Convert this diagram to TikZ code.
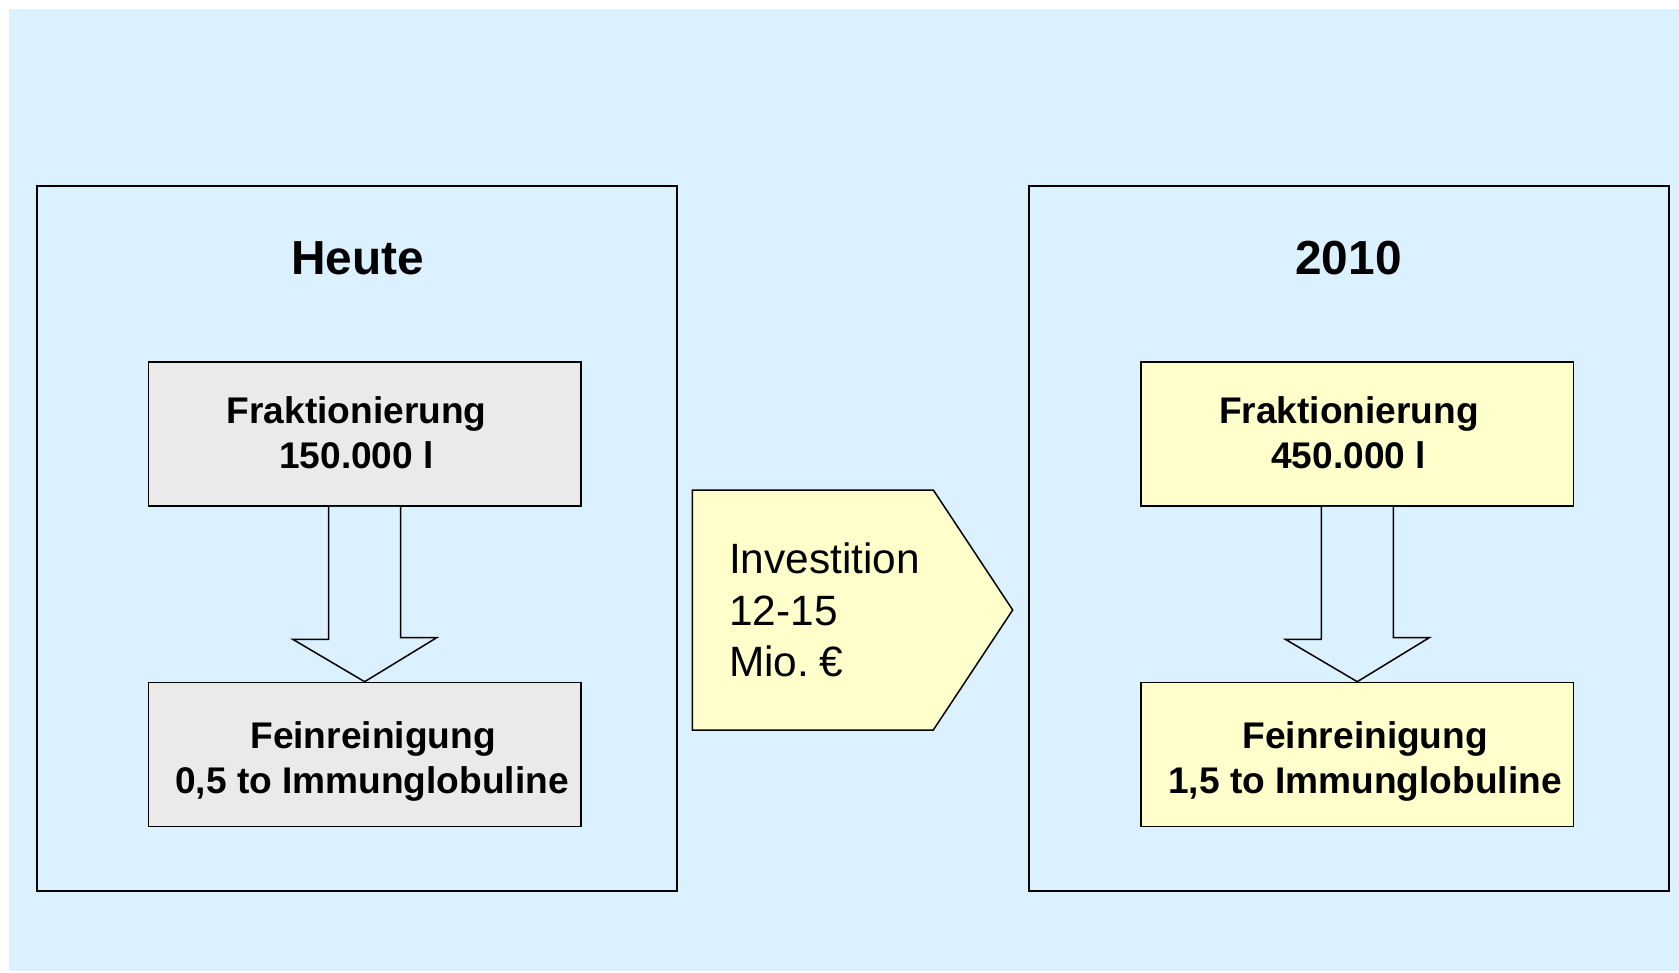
\documentclass[tikz,border=0pt]{standalone}
\usepackage{fontspec}
\setmainfont{Liberation Sans}
\definecolor{bgblue}{RGB}{219,241,255}
\definecolor{grayfill}{RGB}{234,234,234}
\definecolor{yellowfill}{RGB}{255,255,204}
\begin{document}
\begin{tikzpicture}[x=1pt,y=-1pt,
  outerbox/.style={draw=black,line width=1.8pt,minimum width=640pt,minimum height=704.6pt,inner sep=0pt},
  innerbox/.style={draw=black,line width=1.6pt,minimum width=432.5pt,minimum height=144pt,inner sep=0pt},
  blockarrow/.style={draw=black,line width=1.5pt,fill=bgblue,line join=miter},
  heading/.style={inner sep=0pt,anchor=base,font=\fontsize{47.8}{56}\selectfont\bfseries},
  boxtext/.style={inner sep=0pt,anchor=base,font=\fontsize{37.1}{44}\selectfont\bfseries},
  invtext/.style={inner sep=0pt,anchor=base west,font=\fontsize{42.4}{51.5}\selectfont}]
\useasboundingbox (0,0) rectangle (1679,973);
\fill[bgblue] (9,9) rectangle (1679,971);
% outer boxes
\node[outerbox] (L) at (356.6,538.6) {};
\node[outerbox] (R) at (1349,538.6) {};
\node[heading] (hL) at (357.5,274.3) {Heute};
\node[heading] (hR) at (1348.5,274.3) {2010};
% left inner boxes
\node[innerbox,fill=grayfill] (F1) at (364.65,434.15) {};
\node[innerbox,fill=grayfill] (B1) at (364.65,754.5) {};
% right inner boxes
\node[innerbox,fill=yellowfill] (F2) at (1357.25,434.15) {};
\node[innerbox,fill=yellowfill] (B2) at (1357.25,754.5) {};
% block arrows
\draw[blockarrow] ([xshift=-36pt]F1.south) -- ++(0,132.3) -- ++(-36,0) -- (B1.north) -- ++(72,-44) -- ++(-36,0) -- ([xshift=36pt]F1.south);
\draw[blockarrow] ([xshift=-36pt]F2.south) -- ++(0,132.3) -- ++(-36,0) -- (B2.north) -- ++(72,-44) -- ++(-36,0) -- ([xshift=36pt]F2.south);
% box texts
\node[boxtext] (t1a) at (356.7,424) {Fraktionierung};
\node[boxtext] (t1b) at (356.5,468.3) {150.000 l};
\node[boxtext] (t2a) at (373,748.3) {Feinreinigung};
\node[boxtext] (t2b) at (372,793.3) {0,5 to Immunglobuline};
\node[boxtext] (t3a) at (1349,424) {Fraktionierung};
\node[boxtext] (t3b) at (1348.7,468.3) {450.000 l};
\node[boxtext] (t4a) at (1365.3,748.3) {Feinreinigung};
\node[boxtext] (t4b) at (1365,793.3) {1,5 to Immunglobuline};
% investment pentagon
\draw[draw=black,line width=1.5pt,fill=yellowfill,line join=miter]
  (692.3,490) -- (933.3,490) -- (1012.7,610) -- (933.3,730) -- (692.3,730) -- cycle;
\node[invtext] (i1) at (729,573.3) {Investition};
\node[invtext] (i2) at (729,625) {12-15};
\node[invtext] (i3) at (729,676) {Mio.\kern-2pt\ €};
\end{tikzpicture}
\end{document}
